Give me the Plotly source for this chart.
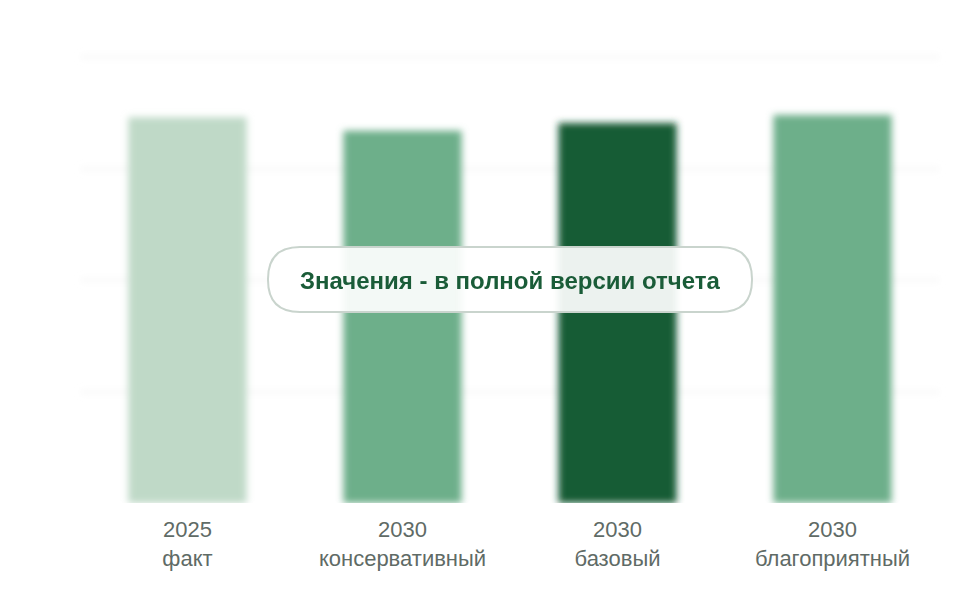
import plotly.graph_objects as go

years = ['2025', '2030', '2030', '2030']
scenarios = ['факт', 'консервативный', 'базовый', 'благоприятный']
values = [346, 334, 341, 348]
bar_colors = ['#bfd9c7', '#6daf8a', '#155c36', '#6daf8a']

labels = [y + '<br>' + s for y, s in zip(years, scenarios)]

W, H = 960, 600
ML, MR, MT, MB = 80, 20, 46, 97


def to_paper(px, py):
    return ((px - ML) / (W - ML - MR), (H - MB - py) / (H - MT - MB))


def rounded_box(x0, y0, x1, y1, r):
    pts = [('M', x0 + r, y0), ('L', x1 - r, y0), ('Q', x1, y0, x1, y0 + r),
           ('L', x1, y1 - r), ('Q', x1, y1, x1 - r, y1), ('L', x0 + r, y1),
           ('Q', x0, y1, x0, y1 - r), ('L', x0, y0 + r), ('Q', x0, y0, x0 + r, y0)]
    out = []
    for p in pts:
        cmd, coords = p[0], p[1:]
        s = []
        for i in range(0, len(coords), 2):
            a, b = to_paper(coords[i], coords[i + 1])
            s.append('%.5f,%.5f' % (a, b))
        out.append(cmd + ' ' + ' '.join(s))
    return ' '.join(out) + ' Z'


fig = go.Figure()
fig.add_trace(go.Bar(x=list(range(len(values))), y=values,
                     marker=dict(color=bar_colors, line=dict(width=0)),
                     hoverinfo='skip'))

fig.add_shape(type='path', xref='paper', yref='paper',
              path=rounded_box(268, 247, 752, 312, 32),
              fillcolor='rgba(255,255,255,0.92)',
              line=dict(color='#c9d4cd', width=2), layer='above')

fig.add_annotation(x=to_paper(510, 0)[0], y=to_paper(0, 280)[1],
                   xref='paper', yref='paper', showarrow=False,
                   text='<b>Значения - в полной версии отчета</b>',
                   font=dict(size=24, color='#1a5c38'))

fig.update_layout(
    width=W, height=H,
    margin=dict(l=ML, r=MR, t=MT, b=MB),
    paper_bgcolor='white', plot_bgcolor='white',
    font=dict(family='Liberation Sans, Arial, sans-serif'),
    bargap=0.45, showlegend=False,
    xaxis=dict(tickmode='array', tickvals=list(range(len(values))),
               ticktext=labels, range=[-0.5, 3.5], showgrid=False,
               zeroline=False, showline=False, ticks='',
               ticklabelstandoff=11,
               tickfont=dict(size=22, color='#5f6b66')),
    yaxis=dict(range=[0, 410], tickmode='array', tickvals=[0, 100, 200, 300, 400],
               showticklabels=False,
               gridcolor='#f1f1f1', gridwidth=2, zeroline=True,
               zerolinecolor='#f1f1f1', zerolinewidth=2),
)

blur_js = """
document.body.style.margin = '0';
var gd = document.getElementById('{plot_id}');
var svg = gd.querySelector('.main-svg');
var ns = 'http://www.w3.org/2000/svg';
var defs = svg.querySelector('defs');
var f = document.createElementNS(ns, 'filter');
f.setAttribute('id', 'softblur');
f.setAttribute('x', '-20%'); f.setAttribute('y', '-20%');
f.setAttribute('width', '140%'); f.setAttribute('height', '140%');
var g = document.createElementNS(ns, 'feGaussianBlur');
g.setAttribute('stdDeviation', '3.5');
f.appendChild(g);
defs.appendChild(f);
gd.querySelectorAll('.barlayer, .gridlayer, .zerolinelayer').forEach(function (e) {
    e.setAttribute('filter', 'url(#softblur)');
});
"""

fig.write_html('out.html', post_script=blur_js,
               config={'displayModeBar': False, 'staticPlot': True})
